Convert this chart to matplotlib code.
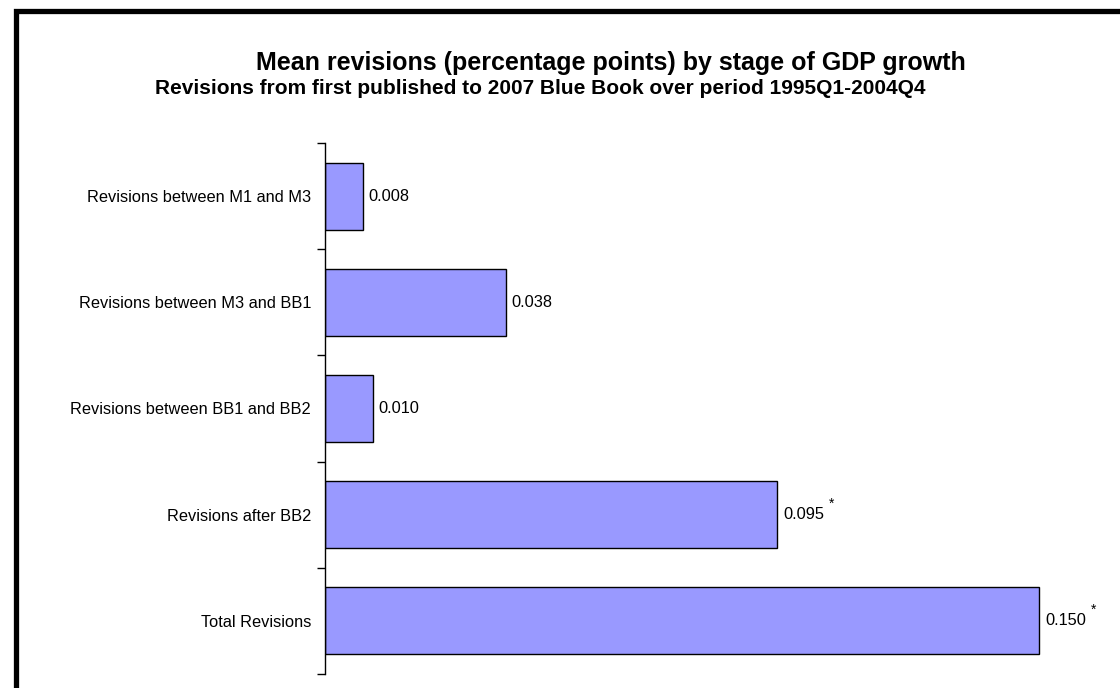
import matplotlib.pyplot as plt
from matplotlib.patches import Rectangle

plt.rcParams["font.family"] = ["Liberation Sans", "DejaVu Sans"]

# data ========================================================================

stages = ["Revisions between M1 and M3", "Revisions between M3 and BB1",
          "Revisions between BB1 and BB2", "Revisions after BB2", "Total Revisions"]
mean_rev = [0.008, 0.038, 0.010, 0.095, 0.150]
significant = [False, False, False, True, True]

# plot ========================================================================

fig = plt.figure(figsize=(11.2, 6.88), dpi=100)
W, H = 1120, 688

# thick frame around chart area
fig.patches.append(Rectangle((15.5 / W, -0.1), 1.2, 1.1 - 11.5 / H,
                             transform=fig.transFigure, fill=False,
                             edgecolor="black", linewidth=3.8))

ax = fig.add_axes([325 / W, 1 - 674 / H, (1087 - 325) / W, (674 - 143) / H])
ypos = list(range(len(stages)))
ax.barh(ypos, mean_rev, height=0.63, color="#9999FF", edgecolor="black", linewidth=1)

ax.set_ylim(len(stages) - 0.5, -0.5)
ax.set_xlim(0, 0.16)
ax.set_yticks(ypos)
ax.set_yticklabels(stages, fontsize=11.8)
ax.tick_params(axis="y", which="major", length=0, pad=10)
ax.set_yticks([y - 0.5 for y in range(len(stages) + 1)], minor=True)
ax.tick_params(axis="y", which="minor", length=6, width=1)
ax.xaxis.set_visible(False)
for s in ["top", "right", "bottom"]:
    ax.spines[s].set_visible(False)
ax.spines["left"].set_linewidth(1)

for y, v, sig in zip(ypos, mean_rev, significant):
    ax.annotate(f"{v:.3f}", (v, y), xytext=(4, 0), textcoords="offset points",
                va="center", ha="left", fontsize=11.8)
    if sig:
        ax.annotate("*", (v, y), xytext=(37, 8), textcoords="offset points",
                    va="center", ha="left", fontsize=10)

fig.text(611 / W, 1 - 63 / H, "Mean revisions (percentage points) by stage of GDP growth",
         ha="center", va="center", fontsize=18, fontweight="bold")
fig.text(540 / W, 1 - 88 / H,
         "Revisions from first published to 2007 Blue Book over period 1995Q1-2004Q4",
         ha="center", va="center", fontsize=15, fontweight="bold")

fig.savefig("out.png", dpi=100)
